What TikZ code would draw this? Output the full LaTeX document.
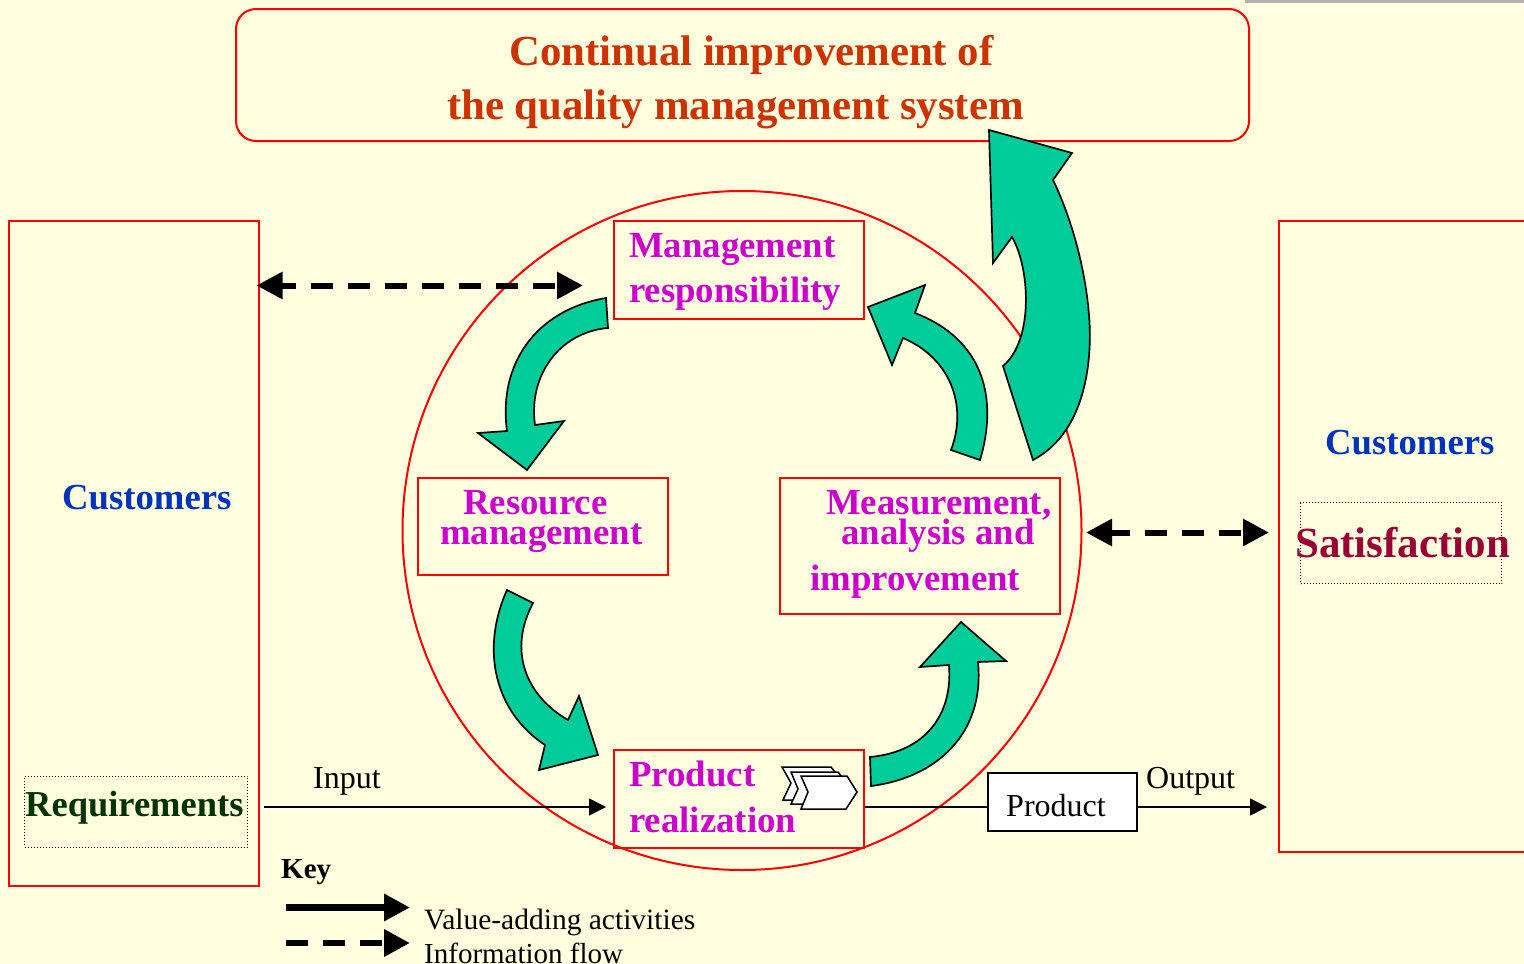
\documentclass[tikz,border=0pt]{standalone}
\usepackage{fontspec}
\setmainfont{Liberation Serif}
\usetikzlibrary{arrows.meta}
\definecolor{bgc}{RGB}{255,255,224}
\definecolor{redl}{RGB}{255,0,0}
\definecolor{teal1}{RGB}{0,204,153}
\definecolor{orng}{RGB}{204,51,0}
\definecolor{magt}{RGB}{204,0,204}
\definecolor{blu}{RGB}{0,51,187}
\definecolor{crim}{RGB}{153,0,51}
\definecolor{grn}{RGB}{0,51,0}
\newcommand\fsz[1]{\fontsize{#1}{#1}\selectfont}
\tikzset{
 redbox/.style={draw=redl,line width=2pt,rectangle,inner sep=0pt,anchor=center},
 dotbox/.style={draw=black,line width=1pt,dotted,rectangle,inner sep=0pt,anchor=center},
 whitebox/.style={draw=black,line width=2pt,fill=white,rectangle,inner sep=0pt,anchor=center},
 lbl/.style={anchor=base west,inner sep=0pt},
 title/.style={lbl,text=orng,font=\fsz{42.8}\bfseries},
 proc/.style={lbl,text=magt,font=\fsz{36.8}\bfseries},
 cust/.style={lbl,text=blu,font=\fsz{36.7}\bfseries},
 plain/.style={lbl,text=black,font=\fsz{32}},
 flow/.style={fill=teal1,draw=black,line width=1.7pt,line join=miter},
 thin arrow/.style={black,line width=1.6pt,-{Triangle[length=17pt,width=17pt]}},
 info/.style={black,line width=6pt,{Triangle[length=26pt,width=26pt]}-{Triangle[length=26pt,width=26pt]}},
 infokey/.style={black,line width=6.5pt,dash pattern=on 22pt off 15pt,-{Triangle[length=26pt,width=26pt]}},
 solidkey/.style={black,line width=6.5pt,-{Triangle[length=26pt,width=26pt]}},
 chev/.style={draw=black,fill=white,line width=1.5pt,line join=miter},
}
\begin{document}
\begin{tikzpicture}[x=1pt,y=-1pt]
\useasboundingbox (0,0) rectangle (1524,964);
\clip (0,0) rectangle (1524,964);
\fill[bgc] (0,0) rectangle (1524,964);
\fill[black!30] (1245,0) rectangle (1524,2.5);
% main circle
\node[draw=redl,line width=2pt,circle,inner sep=0pt,minimum size=679pt] (loop) at (742,530.5) {};
% top box
\node[redbox,rounded corners=20pt,minimum width=1013pt,minimum height=132pt] (top) at (742.5,75) {};
\node[title] (t1) at (509,65) {Continual improvement of};
\node[title] (t2) at (447,119) {the quality management system};
% customers left
\node[redbox,minimum width=250pt,minimum height=665pt] (custL) at (134,553.5) {};
\node[cust] (cl) at (62,509) {Customers};
\node[dotbox,minimum width=223pt,minimum height=71pt] (req) at (136,811.5) {};
\node[lbl,text=grn,font=\fsz{36.5}\bfseries] (reqt) at (25,816) {Requirements};
% customers right
\node[redbox,minimum width=270pt,minimum height=631pt] (custR) at (1414,536.5) {};
\node[cust] (cr) at (1325,454) {Customers};
\node[dotbox,minimum width=201pt,minimum height=81pt] (sat) at (1401,543) {};
\node[lbl,text=crim,font=\fsz{43}\bfseries] (satt) at (1295,557) {Satisfaction};
% process boxes
\node[redbox,minimum width=250pt,minimum height=98pt] (mgmt) at (739,270) {};
\node[proc] (m1) at (629,257) {Management};
\node[proc] (m2) at (629,302) {responsibility};
\node[redbox,minimum width=250pt,minimum height=97pt] (res) at (543,526.5) {};
\node[proc] (r1) at (463,514) {Resource};
\node[proc] (r2) at (440,544) {management};
\node[redbox,minimum width=280pt,minimum height=136pt] (meas) at (920,546) {};
\node[proc] (a1) at (826,514) {Measurement,};
\node[proc] (a2) at (841,544) {analysis and};
\node[proc] (a3) at (810,590) {improvement};
\node[redbox,minimum width=250pt,minimum height=98pt] (prod) at (739,799) {};
\node[proc] (p1) at (629,786) {Product};
\node[proc] (p2) at (629,832) {realization};
% chevrons
\draw[chev] (782,767) -- (831,767) -- (845,785) -- (831,800) -- (783,800) -- (791,783) -- cycle;
\draw[chev] (791,772) -- (838,772) -- (850,788) -- (838,804) -- (791,804) -- (798,789) -- cycle;
\draw[chev] (801,776) -- (847,776) -- (857,792) -- (846,809) -- (801,809) -- (808,792) -- cycle;
% flow arrows
\draw[flow] (606,298) .. controls (535,310) and (498,365) .. (507,431) -- (478,433) -- (527,470) -- (564,421) -- (535,425) .. controls (528,375) and (560,332) .. (608,328) -- cycle;
\draw[flow] (507,590) .. controls (480,650) and (495,712) .. (545,745) -- (539,770) -- (598,755) -- (579,696) -- (568,720) .. controls (525,695) and (508,650) .. (533,603) -- cycle;
\draw[flow] (871,786) .. controls (935,778) and (985,735) .. (978,662) -- (1006,661) -- (961,622) -- (920,667) -- (949,665) .. controls (953,715) and (925,752) .. (870,757) -- cycle;
\draw[flow] (980,460) .. controls (998,400) and (985,340) .. (915,313) -- (925,285) -- (868,307) -- (892,365) -- (903,338) .. controls (950,358) and (968,405) .. (951,450) -- cycle;
\draw[flow] (1033,460) .. controls (1090,430) and (1092,350) .. (1089,315) .. controls (1085,265) and (1070,215) .. (1053,180) -- (1072,153) -- (989,130) -- (993,263) -- (1012,237) .. controls (1030,268) and (1034,340) .. (1003,366) -- cycle;
% input/output
\coordinate (inS) at (264,807);
\coordinate (inE) at (606,807);
\coordinate (outE) at (1267,807);
\node[whitebox,minimum width=149pt,minimum height=58pt] (pbox) at (1062.5,802) {};
\coordinate (pS) at (prod.east |- inS);
\coordinate (pE) at (pbox.west |- inS);
\coordinate (oS) at (pbox.east |- inS);
\draw[thin arrow] (inS) -- (inE);
\draw[black,line width=1.6pt] (pS) -- (pE);
\draw[thin arrow] (oS) -- (outE);
\node[plain] (inl) at (313,788) {Input};
\node[plain] (outl) at (1146,788) {Output};
\node[plain] (pl) at (1006,816) {Product};
% info arrows
\coordinate (i1a) at (256.5,285.5);
\coordinate (i1b) at (583,285.5);
\coordinate (i2a) at (1086,532.5);
\coordinate (i2b) at (1269,532.5);
\draw[info,dash pattern=on 22pt off 15pt,dash phase=7pt] (i1a) -- (i1b);
\draw[info,dash pattern=on 22pt off 15pt,dash phase=3pt] (i2a) -- (i2b);
% key
\node[lbl,font=\fsz{29}\bfseries] (key) at (281,878) {Key};
\coordinate (k1a) at (286,907.5);
\coordinate (k1b) at (410,907.5);
\coordinate (k2a) at (286,943);
\coordinate (k2b) at (410,943);
\draw[solidkey] (k1a) -- (k1b);
\draw[infokey] (k2a) -- (k2b);
\node[lbl,font=\fsz{29.5}] (k1t) at (424,929) {Value-adding activities};
\node[lbl,font=\fsz{29}] (k2t) at (424,963) {Information flow};
\end{tikzpicture}
\end{document}
